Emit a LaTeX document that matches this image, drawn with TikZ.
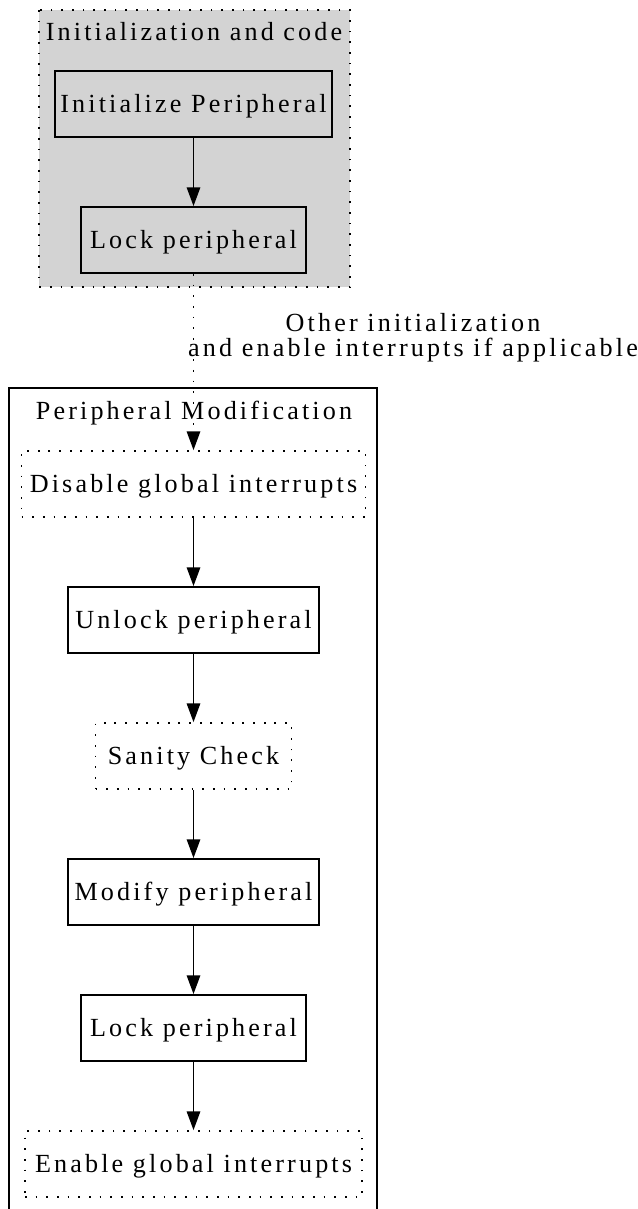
\documentclass[tikz,border=0pt]{standalone}
\usepackage{fontspec}
\setmainfont{Liberation Serif}[LetterSpace=12]
\usetikzlibrary{arrows.meta}
\definecolor{clustergray}{HTML}{D3D3D3}

\tikzset{
  lbl/.style={inner sep=0pt, font=\fontsize{19.6pt}{19pt}\selectfont,
              text height=12.5pt, text depth=0pt},
  box/.style={lbl, draw, line width=1.4pt, minimum height=49.5pt},
  dotline/.style={line width=1.3pt, dash pattern=on 1.3pt off 6.7pt},
  dotbox/.style={box, dotline},
  flow/.style={-{Triangle[length=14pt,width=10pt]}, line width=1.4pt},
  cluster/.style={line width=1.4pt},
}

\begin{document}
\begin{tikzpicture}[x=0.75pt,y=-0.75pt]
  \path[use as bounding box, clip] (0,0) rectangle (638,1209);

  % initialization cluster
  \draw[cluster, dotline, fill=clustergray] (39,10) rectangle (350,287);
  \node[lbl] (initlabel) at (194,32) {Initialization and code};
  \node[box, minimum width=207.75pt] (init)  at (193.5,104) {Initialize Peripheral};
  \node[box, minimum width=168.75pt] (lockA) at (193.5,240) {Lock peripheral};

  % peripheral modification cluster
  \draw[cluster] (9,388) rectangle (377,1230);
  \node[lbl] (modlabel) at (194,411) {Peripheral Modification};
  \node[dotbox, minimum width=258pt]    (disable) at (193.5,484)  {Disable global interrupts};
  \node[box, minimum width=188.25pt]    (unlock)  at (193.5,620)  {Unlock peripheral};
  \node[dotbox, minimum width=147pt]    (sanity)  at (193.5,756)  {Sanity Check};
  \node[box, minimum width=188.25pt]    (modify)  at (193.5,892)  {Modify peripheral};
  \node[box, minimum width=168.75pt]    (lockB)   at (193.5,1028) {Lock peripheral};
  \node[dotbox, minimum width=252.75pt] (enable)  at (193.5,1164) {Enable global interrupts};

  % connectors
  \draw[flow] (init) -- (lockA);
  \draw[flow, dotline] (lockA) -- (disable);
  \node[inner sep=0pt, align=center, anchor=north,
        font=\fontsize{19.6pt}{19pt}\selectfont] (edgelabel) at (413,313)
        {Other initialization\\and enable interrupts if applicable};
  \draw[flow] (disable) -- (unlock);
  \draw[flow] (unlock) -- (sanity);
  \draw[flow] (sanity) -- (modify);
  \draw[flow] (modify) -- (lockB);
  \draw[flow] (lockB) -- (enable);
\end{tikzpicture}
\end{document}
